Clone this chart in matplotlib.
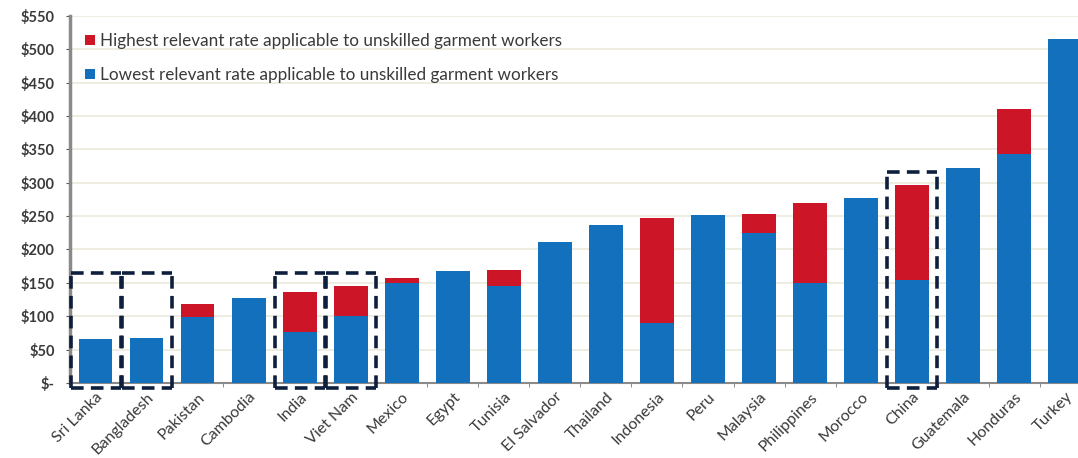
#!/usr/bin/env python3
# -*- coding: utf-8 -*-
"""Minimum monthly wages for unskilled garment workers (stacked bars)."""

import matplotlib.pyplot as plt

# ---------- data -------------------------------------------------------------
countries = ["Sri Lanka", "Bangladesh", "Pakistan", "Cambodia", "India",
             "Viet Nam", "Mexico", "Egypt", "Tunisia", "El Salvador",
             "Thailand", "Indonesia", "Peru", "Malaysia", "Philippines",
             "Morocco", "China", "Guatemala", "Honduras", "Turkey"]
lowest = [66, 67, 99, 127, 76, 100, 150, 168, 145, 211,
          236, 90, 251, 224, 150, 277, 154, 322, 343, 516]
highest = [66, 67, 118, 127, 136, 145, 157, 168, 169, 211,
           236, 247, 251, 253, 269, 277, 296, 322, 411, 516]
# highlighted countries and the top of their dashed frame
boxed = ["Sri Lanka", "Bangladesh", "India", "Viet Nam", "China"]
box_top = [164, 164, 165, 164, 316]

yticks = list(range(0, 551, 50))
ytick_labels = ["$-"] + [f"${v}" for v in yticks[1:]]

BLUE = "#1270bd"
RED = "#cc1526"
NAVY = "#0e1f3d"
TXT = "#3a3a3a"

plt.rcParams["font.family"] = ["Lato", "DejaVu Sans"]

fig = plt.figure(figsize=(10.78, 4.58), dpi=100)
ax = fig.add_axes([0.065, 0.164, 0.935, 0.801])

x = list(range(len(countries)))
extra = [h - l for h, l in zip(highest, lowest)]
ax.bar(x, lowest, width=0.66, color=BLUE, zorder=3,
       label="Lowest relevant rate applicable to unskilled garment workers")
ax.bar(x, extra, bottom=lowest, width=0.66, color=RED, zorder=3,
       label="Highest relevant rate applicable to unskilled garment workers")

# dashed frames around the highlighted countries (same dash phase on every edge)
dash = dict(colors=NAVY, linewidth=2.6, linestyles=[(0, (3.5, 2))],
            zorder=5, clip_on=False)
for name, top in zip(boxed, box_top):
    i = countries.index(name)
    ax.vlines([i - 0.49, i + 0.49], -7.5, top, **dash)
    ax.hlines([-7.5, top], i - 0.49, i + 0.49, **dash)

ax.set_xlim(-0.5, 19.25)
ax.set_ylim(0, 550)
ax.set_yticks(yticks)
ax.set_yticklabels(ytick_labels, fontsize=10.5, color=TXT, fontweight="bold")
ax.set_xticks(x)
ax.set_xticklabels(countries, rotation=45, ha="right", rotation_mode="anchor",
                   fontsize=11.5, color=TXT)
ax.tick_params(axis="x", length=0, pad=5)
ax.set_xticks([i + 0.5 for i in x[:-1]], minor=True)
ax.tick_params(axis="x", which="minor", length=3, color="#777777")
ax.tick_params(axis="y", length=3, color="#555555", pad=8)

ax.grid(axis="y", color="#ece9dc", linewidth=1.2, zorder=0)
for side in ("top", "right"):
    ax.spines[side].set_visible(False)
ax.spines["left"].set_color("#8a8a8a")
ax.spines["left"].set_linewidth(2.5)
ax.spines["bottom"].set_color("#8a8a8a")
ax.spines["bottom"].set_linewidth(1.5)

handles, labels = ax.get_legend_handles_labels()
ax.legend(handles[::-1], labels[::-1], loc="upper left",
          bbox_to_anchor=(0.0, 0.995), frameon=False, fontsize=12.3,
          handlelength=0.55, handleheight=0.55, handletextpad=0.3,
          labelspacing=1.05, labelcolor=TXT)

fig.savefig("out.png", dpi=100)
